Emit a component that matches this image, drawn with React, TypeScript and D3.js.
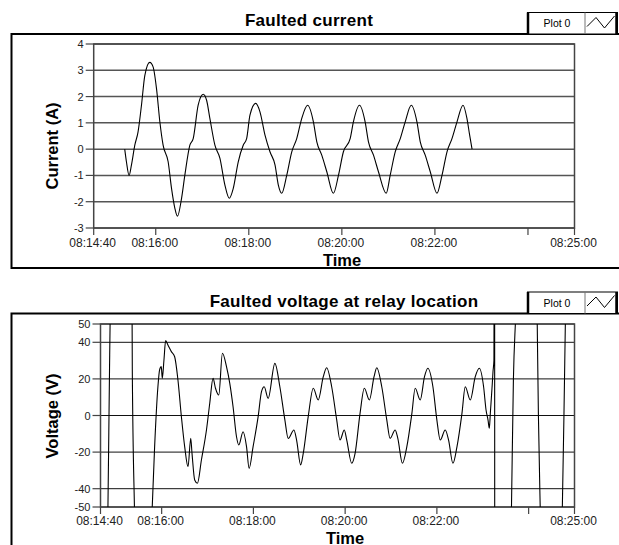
import React from 'react';
import * as d3 from 'd3';

// time axis: seconds after 08:14:40
const xTickSeconds = [0, 80, 200, 320, 440, 560, 620];
const xTickLabels = ['08:14:40', '08:16:00', '08:18:00', '08:20:00', '08:22:00', '', '08:25:00'];

const currentTicks = [4, 3, 2, 1, 0, -1, -2, -3];
const voltageTicks = [50, 40, 20, 0, -20, -40, -50];

// [seconds after 08:14:40, amps]
const currentSeries: [number, number][] = [
  [40.0, 0], [42.2, -0.48], [45.6, -1.0], [48.7, -0.6], [53.0, 0.15], [57.2, 0.66], [61.6, 1.67], [65.9, 2.8],
  [72.3, 3.3], [76.6, 3.13], [81.0, 2.3], [85.3, 1.04], [89.5, 0.15], [96.0, -0.48], [100.4, -1.5], [104.6, -2.24],
  [108.0, -2.55], [113.3, -1.87], [117.5, -1.0], [124.0, 0.15], [128.3, 0.4], [134.7, 1.67], [141.2, 2.09], [145.6, 1.86],
  [149.8, 1.17], [156.3, 0.15], [162.8, -0.35], [169.2, -1.37], [174.8, -1.87], [179.9, -1.5], [186.4, -0.48], [192.8, 0.15],
  [197.2, 0.4], [201.5, 1.29], [208.9, 1.74], [214.4, 1.42], [220.9, 0.53], [227.3, -0.1], [233.8, -0.6], [238.1, -1.37],
  [242.5, -1.68], [248.9, -1.0], [255.4, -0.1], [261.8, 0.4], [268.3, 1.17], [275.8, 1.67], [283.3, 1.04], [287.7, 0.28],
  [294.1, -0.23], [300.6, -0.86], [309.1, -1.68], [315.6, -1.0], [322.0, -0.1], [330.7, 0.4], [334.9, 1.04], [342.7, 1.67],
  [350.0, 1.04], [354.3, 0.28], [360.8, -0.23], [367.2, -0.86], [377.2, -1.68], [382.3, -1.0], [388.8, -0.1], [395.3, 0.4],
  [401.7, 1.04], [409.5, 1.67], [416.8, 1.04], [421.1, 0.28], [427.5, -0.23], [434.0, -0.86], [442.7, -1.68], [449.1, -1.0],
  [455.6, -0.1], [462.0, 0.4], [468.5, 1.04], [476.2, 1.67], [481.3, 1.17], [484.8, 0.53], [487.9, 0],
];

// [seconds after 08:14:40, volts]
const voltageSeries: [number, number][] = [
  [0, -200], [9.6, -55], [11.8, 25], [12.7, 55], [27, 260], [41.3, 55], [41.6, 25], [44.6, -55], [56, -260],
  [67.2, -55], [70.8, -17], [75.1, 15.7], [77.3, 24.9], [79.5, 26.7], [80.8, 20.3], [83.0, 30.3], [85.2, 40.9],
  [88.2, 38.5], [92.7, 34.9], [97.0, 32.1], [101.3, 19.4], [105.8, -0.6], [110.1, -17], [114.5, -28], [118.0, -12.5],
  [119.7, -20.7], [123.2, -35.2], [126.8, -37], [132.0, -24.3], [138.6, -7.9], [142.9, 6.7], [147.2, 20.3], [150.4, 14.9],
  [154.7, 11.2], [159.5, 34.0], [164.8, 26.7], [169.1, 17.6], [173.4, 4.8], [177.9, -11.6], [180.9, -16.1], [186.5, -8.9],
  [191.0, -17], [194.4, -28.9], [199.6, -17], [206.2, -0.6], [210.6, 13], [214.1, 15.7], [219.3, 9.4], [228.1, 28.5],
  [234.6, 15.7], [241.2, -2.5], [245.5, -12.5], [253.0, -7.9], [256.5, -13.4], [261.8, -27], [265.2, -20.7], [271.7, -0.6],
  [278.3, 14.9], [284.8, 8.5], [291.4, 21.2], [295.8, 26.1], [302.4, 15.7], [309.0, -2.5], [313.3, -13.4], [318.9, -7.9],
  [322.1, -13.4], [328.6, -26.1], [333.0, -20.7], [339.5, 1.2], [345.1, 14.9], [351.7, 8.5], [357.8, 21.2], [361.4, 26.1],
  [367.9, 15.7], [374.5, -2.5], [378.8, -12.5], [385.4, -7.9], [388.9, -12.5], [394.9, -26.1], [400.7, -17], [407.3, 1.2],
  [411.6, 14.9], [418.2, 8.5], [423.8, 21.2], [428.2, 25.8], [434.8, 15.7], [440.0, -2.5], [444.4, -13.4], [450.9, -7.9],
  [455.3, -13.4], [461.0, -26.1], [466.3, -17], [472.8, 1.2], [477.1, 15.7], [483.7, 8.5], [490.2, 21.2], [495.5, 25.8],
  [501.1, 15.7], [504.3, 3], [506.9, -2.5], [508.6, -7], [509.9, 1.2], [512.5, 17.6], [513.4, 24], [514.6, 30],
  [515.4, 300], [515.8, -300], [523, -280], [537.4, -55], [540.1, 20], [543.1, 55], [557, 280], [571.1, 55],
  [572.8, 0], [575.4, -55], [589, -280], [603.9, -55], [606.2, 0], [608.2, 55], [620, 280],
];

const FONT = '"Liberation Sans", Arial, sans-serif';

type PanelProps = {
  id: string;
  title: string;
  titleX: number;
  titleY: number;
  yLabel: string;
  yLabelY: number;
  ticks: number[];
  series: [number, number][];
  frameTop: number;
  frameBottom: number;
  left: number;
  right: number;
  top: number;
  bottom: number;
  timeX: number;
  timeY: number;
  tickLabelY: number;
  gridColor: string;
  gridWidth: number;
};

function Panel(p: PanelProps) {
  const x = d3.scaleLinear().domain([0, 620]).range([p.left, p.right]);
  const yDom = d3.extent(p.ticks) as [number, number];
  const y = d3.scaleLinear().domain(yDom).range([p.bottom, p.top]);
  const line = d3
    .line<[number, number]>()
    .x((d) => x(d[0]))
    .y((d) => y(d[1]))
    .curve(d3.curveMonotoneX);
  const legendTop = p.frameTop - 21.5;
  return (
    <g>
      {/* outer frame */}
      <rect x={11.5} y={p.frameTop} width={640} height={p.frameBottom - p.frameTop} fill="none" stroke="#000" strokeWidth={2} />
      {/* title */}
      <text x={p.titleX} y={p.titleY} textAnchor="middle" fontFamily={FONT} fontWeight="bold" fontSize={17} letterSpacing={0.3} fill="#000">
        {p.title}
      </text>
      {/* legend */}
      <rect x={527.5} y={legendTop} width={90} height={21.5} fill="#fff" stroke="#000" strokeWidth={1} />
      <line x1={528} x2={528} y1={legendTop} y2={p.frameTop} stroke="#000" strokeWidth={2.5} />
      <line x1={616.5} x2={616.5} y1={legendTop} y2={p.frameTop} stroke="#000" strokeWidth={2.5} />
      <line x1={585} x2={585} y1={legendTop} y2={p.frameTop} stroke="#777" strokeWidth={1} />
      <text x={557} y={legendTop + 14.5} textAnchor="middle" fontFamily={FONT} fontSize={10.5} fill="#000">
        Plot 0
      </text>
      <polyline
        points={`587,${legendTop + 14} 596,${legendTop + 5} 604.5,${legendTop + 15.5} 614.5,${legendTop + 3.5}`}
        fill="none"
        stroke="#000"
        strokeWidth={1}
      />
      {/* grid */}
      {p.ticks.map((t) => (
        <line key={'g' + t} x1={p.left} x2={p.right} y1={y(t)} y2={y(t)} stroke={p.gridColor} strokeWidth={p.gridWidth} />
      ))}
      {/* plot border */}
      <rect x={p.left} y={p.top} width={p.right - p.left} height={p.bottom - p.top} fill="none" stroke="#444" strokeWidth={1.5} />
      {/* y ticks */}
      {p.ticks.map((t) => (
        <g key={'y' + t}>
          <line x1={p.left - 8} x2={p.left} y1={y(t)} y2={y(t)} stroke="#444" strokeWidth={1.2} />
          <text x={p.left - 10} y={y(t) + 4} textAnchor="end" fontFamily={FONT} fontSize={11} fill="#222">
            {t}
          </text>
        </g>
      ))}
      {/* x ticks */}
      {xTickSeconds.map((s, i) => (
        <g key={'x' + s}>
          <line x1={x(s)} x2={x(s)} y1={p.bottom} y2={p.bottom + 7} stroke="#444" strokeWidth={1.2} />
          <text x={x(s) - 1} y={p.tickLabelY} textAnchor="middle" fontFamily={FONT} fontSize={12} fill="#222">
            {xTickLabels[i]}
          </text>
        </g>
      ))}
      {/* data */}
      <clipPath id={p.id}>
        <rect x={p.left} y={p.top} width={p.right - p.left} height={p.bottom - p.top} />
      </clipPath>
      <path d={line(p.series) || ''} fill="none" stroke="#000" strokeWidth={1.1} clipPath={`url(#${p.id})`} />
      {/* axis titles */}
      <text
        transform={`translate(58,${p.yLabelY}) rotate(-90)`}
        textAnchor="middle"
        fontFamily={FONT}
        fontWeight="bold"
        fontSize={16.5}
        fill="#000"
      >
        {p.yLabel}
      </text>
      <text x={p.timeX} y={p.timeY} textAnchor="middle" fontFamily={FONT} fontWeight="bold" fontSize={16.5} fill="#000">
        Time
      </text>
    </g>
  );
}

export default function App() {
  return (
    <svg width={619} height={545} style={{ position: 'absolute', left: 0, top: 0, background: '#fff' }}>
      <rect x={0} y={0} width={619} height={545} fill="#fff" />
      <Panel
        id="clipTop"
        title="Faulted current"
        titleX={309}
        titleY={26}
        yLabel="Current (A)"
        yLabelY={146}
        ticks={currentTicks}
        series={currentSeries}
        frameTop={34}
        frameBottom={268}
        left={93.7}
        right={574.5}
        top={44}
        bottom={228}
        timeX={342}
        timeY={265.5}
        tickLabelY={246.5}
        gridColor="#555"
        gridWidth={1.5}
      />
      <Panel
        id="clipBottom"
        title="Faulted voltage at relay location"
        titleX={344}
        titleY={307}
        yLabel="Voltage (V)"
        yLabelY={416}
        ticks={voltageTicks}
        series={voltageSeries}
        frameTop={313.5}
        frameBottom={600}
        left={100.5}
        right={574.5}
        top={324}
        bottom={507}
        timeX={345}
        timeY={543.5}
        tickLabelY={525}
        gridColor="#111"
        gridWidth={1}
      />
    </svg>
  );
}
